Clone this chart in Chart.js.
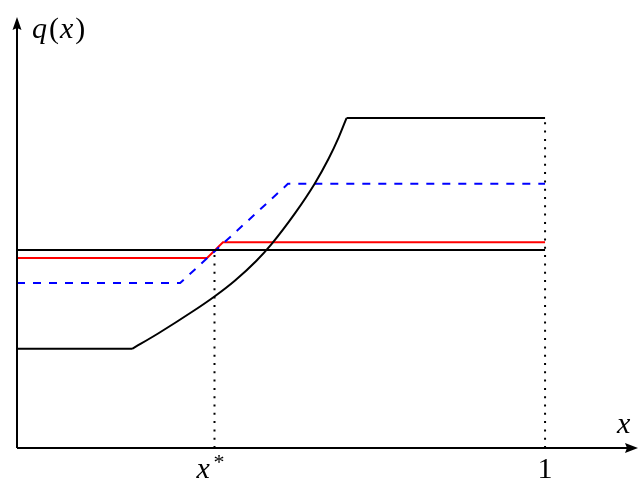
<!DOCTYPE html>
<html>
<head>
<meta charset="utf-8">
<script src="https://cdn.jsdelivr.net/npm/chart.js@4.4.0/dist/chart.umd.min.js"></script>
<style>
  html, body { margin: 0; padding: 0; background: #fff; }
  #wrap { width: 638px; height: 482px; }
</style>
</head>
<body>
<div id="wrap"><canvas id="chart"></canvas></div>
<script>
// x: 0 = origin, 1 = the "1" tick; y: 0 = x axis, 1 = top of the y axis
const xStar = 0.374;
const xOne = 1;

const flatX = [0, xOne];
const blackFlatY = [0.457, 0.457];

const curveLowX = [0, 0.218];
const curveLowY = [0.229, 0.229];
const curveX = [0.218, 0.268, 0.331, 0.374, 0.413, 0.453, 0.482, 0.527, 0.564, 0.590, 0.609, 0.624];
const curveY = [0.229, 0.265, 0.314, 0.350, 0.387, 0.432, 0.471, 0.543, 0.611, 0.668, 0.717, 0.762];
const curveHighX = [0.624, xOne];
const curveHighY = [0.762, 0.762];

const redX = [0, 0.360, 0.390, xOne];
const redY = [0.439, 0.439, 0.475, 0.475];

const blueX = [0, 0.309, 0.513, xOne];
const blueY = [0.381, 0.381, 0.610, 0.610];

const dotStarX = [xStar, xStar];
const dotStarY = [0, 0.457];
const dotOneX = [xOne, xOne];
const dotOneY = [0, 0.762];

function pts(xs, ys) {
    return xs.map((x, i) => ({ x: x, y: ys[i] }));
}

function line(xs, ys, color, extra) {
    return Object.assign({
        data: pts(xs, ys),
        borderColor: color,
        borderWidth: 2,
        pointRadius: 0,
        tension: 0,
        fill: false,
        clip: false
    }, extra || {});
}

const axesPlugin = {
    id: 'axes',
    afterDatasetsDraw(chart) {
        const ctx = chart.ctx;
        const sx = chart.scales.x, sy = chart.scales.y;
        const x0 = sx.getPixelForValue(0), y0 = sy.getPixelForValue(0);
        ctx.save();
        ctx.strokeStyle = '#000';
        ctx.fillStyle = '#000';
        ctx.lineWidth = 2;
        // axes
        ctx.beginPath();
        ctx.moveTo(x0, y0);
        ctx.lineTo(x0, 26);
        ctx.moveTo(x0, y0);
        ctx.lineTo(628, y0);
        ctx.stroke();
        // arrow heads
        ctx.beginPath();
        ctx.moveTo(x0, 17);
        ctx.lineTo(x0 - 4.5, 30);
        ctx.lineTo(x0, 28);
        ctx.lineTo(x0 + 4.5, 30);
        ctx.closePath();
        ctx.fill();
        ctx.beginPath();
        ctx.moveTo(638, y0);
        ctx.lineTo(625, y0 - 5);
        ctx.lineTo(627, y0);
        ctx.lineTo(625, y0 + 5);
        ctx.closePath();
        ctx.fill();
        // labels
        ctx.textBaseline = 'alphabetic';
        ctx.textAlign = 'left';
        const it = 'italic 30px "Liberation Serif"';
        const rm = '30px "Liberation Serif"';
        let cx = 32;
        [['q', it, 2], ['(', rm, 1], ['x', it, 2], [')', rm, 0]].forEach(p => {
            ctx.font = p[1];
            ctx.fillText(p[0], cx, 38);
            cx += ctx.measureText(p[0]).width + p[2];
        });
        ctx.font = it;
        ctx.fillText('x', 617, 433);
        const xs = sx.getPixelForValue(xStar);
        ctx.fillText('x', xs - 18, 478);
        ctx.font = '22px "Liberation Serif"';
        ctx.fillText('*', xs - 1, 469);
        ctx.font = rm;
        ctx.textAlign = 'center';
        ctx.fillText('1', sx.getPixelForValue(xOne), 478);
        ctx.restore();
    }
};

new Chart(document.getElementById('chart'), {
    type: 'line',
    data: {
        datasets: [
            line(dotStarX, dotStarY, '#000', { borderDash: [2, 6.3] }),
            line(dotOneX, dotOneY, '#000', { borderDash: [2, 6.3] }),
            line(flatX, blackFlatY, '#000'),
            line(curveLowX, curveLowY, '#000'),
            line(curveX, curveY, '#000', { cubicInterpolationMode: 'monotone' }),
            line(curveHighX, curveHighY, '#000'),
            line(blueX, blueY, '#0000ff', { borderDash: [8, 8] }),
            line(redX, redY, '#ff0000')
        ]
    },
    options: {
        responsive: true,
        maintainAspectRatio: false,
        animation: false,
        layout: { padding: { left: 17, right: 0, top: 15, bottom: 34 } },
        scales: {
            x: { type: 'linear', min: 0, max: 1.176, display: false },
            y: { type: 'linear', min: 0, max: 1, display: false }
        },
        plugins: {
            legend: { display: false },
            tooltip: { enabled: false },
            title: { display: false }
        }
    },
    plugins: [axesPlugin]
});
</script>
</body>
</html>
